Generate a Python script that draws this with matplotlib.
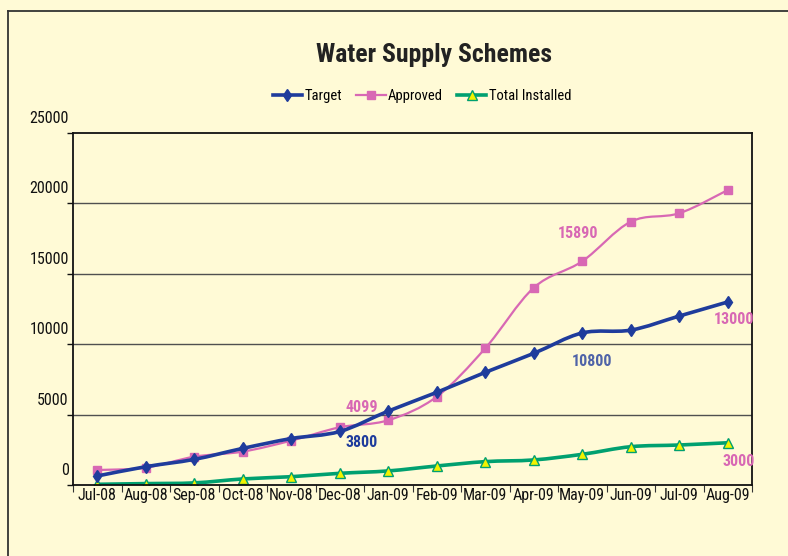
import matplotlib
matplotlib.use("Agg")
import matplotlib.pyplot as plt
import matplotlib.transforms as mtransforms
from matplotlib.path import Path
from matplotlib.patches import PathPatch
from matplotlib.lines import Line2D
import numpy as np

months = ["Jul-08", "Aug-08", "Sep-08", "Oct-08", "Nov-08", "Dec-08", "Jan-09",
          "Feb-09", "Mar-09", "Apr-09", "May-09", "Jun-09", "Jul-09", "Aug-09"]
target = [640, 1300, 1820, 2600, 3300, 3800, 5250, 6580, 8000, 9350, 10800, 11000, 12000, 13000]
approved = [1065, 1230, 2010, 2370, 3150, 4099, 4600, 6270, 9710, 14010, 15890, 18700, 19300, 20950]
installed = [50, 100, 150, 430, 590, 830, 1000, 1350, 1660, 1780, 2180, 2720, 2840, 3000]
yticks = [0, 5000, 10000, 15000, 20000, 25000]

plt.rcParams['font.family'] = ['Roboto Condensed', 'Liberation Sans', 'DejaVu Sans']

BG = "#FFFAD6"
C_T = "#1F3C9C"
C_A = "#D868B4"
C_I = "#00A070"

fig = plt.figure(figsize=(7.88, 5.56), dpi=100, facecolor=BG)
ax = fig.add_axes([73/788, 1-485/556, (752-73)/788, (485-133)/556])
ax.set_facecolor(BG)

x = np.arange(len(months))


def smooth_path(xs, ys):
    xs = np.asarray(xs, float)
    ys = np.asarray(ys, float)
    pts = np.column_stack([xs, ys])
    verts = [pts[0]]
    codes = [Path.MOVETO]
    n = len(pts)
    for i in range(n - 1):
        p0 = pts[i - 1] if i > 0 else pts[i]
        p1 = pts[i]
        p2 = pts[i + 1]
        p3 = pts[i + 2] if i + 2 < n else pts[i + 1]
        c1 = p1 + (p2 - p0) / 6.0
        c2 = p2 - (p3 - p1) / 6.0
        verts += [c1, c2, p2]
        codes += [Path.CURVE4] * 3
    return Path(verts, codes)


def draw_series(vals, color, lw, marker, ms, mfc, mec, label, z):
    ax.add_patch(PathPatch(smooth_path(x, vals), facecolor='none', edgecolor=color,
                           lw=lw, zorder=z, capstyle='round', joinstyle='round'))
    ax.plot(x, vals, linestyle='none', marker=marker, ms=ms, mfc=mfc, mec=mec,
            mew=1.0, zorder=z + 0.5)
    return Line2D([], [], color=color, lw=lw, marker=marker, ms=ms, mfc=mfc, mec=mec,
                  mew=1.0, label=label)


h1 = draw_series(target, C_T, 2.6, 'd', 6.5, C_T, C_T, "Target", 4)
h2 = draw_series(approved, C_A, 1.6, 's', 6, C_A, C_A, "Approved", 3)
h3 = draw_series(installed, C_I, 2.6, '^', 7, '#F2F200', C_I, "Total Installed", 2)

ax.set_xlim(-0.5, len(months) - 0.5)
ax.set_ylim(0, 25000)
ax.set_yticks(yticks)
ax.set_yticklabels([str(v) for v in yticks])
for y in yticks[1:-1]:
    ax.axhline(y, color='#505050', lw=1.0, zorder=1)

ax.set_xticks(x)
ax.set_xticklabels(months)
ax.set_xticks(np.arange(len(months) + 1) - 0.5, minor=True)
ax.tick_params(axis='x', which='major', length=0, pad=2, labelsize=11.5, colors='#111111')
ax.tick_params(axis='x', which='minor', length=5, direction='out', width=0.8, color='#333333')
ax.tick_params(axis='y', which='major', length=4, direction='out', width=1.0, pad=-1,
               labelsize=11.5, colors='#111111')

offset = mtransforms.ScaledTranslation(0, 16/100, fig.dpi_scale_trans)
for lab in ax.get_yticklabels():
    lab.set_transform(lab.get_transform() + offset)

for s in ax.spines.values():
    s.set_color('#111111')
    s.set_linewidth(1.3)

fig.text(434/788, 1-55/556, "Water Supply Schemes", ha='center', va='center',
         fontsize=18.5, fontweight='bold', color='#222222')

fig.legend(handles=[h1, h2, h3], loc='center', bbox_to_anchor=(422/788, 1-96/556),
           ncol=3, frameon=False, fontsize=10.5, handlelength=2.0, columnspacing=1.0,
           handletextpad=0.15)

ann = [
    (5, 4099, "4099", C_A, 22, 20),
    (5, 3800, "3800", C_T, 22, -11),
    (10, 15890, "15890", C_A, -4, 28),
    (10, 10800, "10800", "#4F63A8", 10, -29),
    (13, 13000, "13000", C_A, 6, -18),
    (13, 3000, "3000", C_A, 11, -19),
]
for xi, yv, txt, col, dx, dy in ann:
    ax.annotate(txt, (xi, yv), xytext=(dx, dy), textcoords='offset pixels',
                ha='center', va='center', fontsize=11.5, fontweight='bold', color=col,
                zorder=6)

fig.add_artist(Line2D([8/788, 8/788], [0, 1-11/556], color='#333333', lw=1.3))
fig.add_artist(Line2D([8/788, 1], [1-11/556, 1-11/556], color='#333333', lw=1.3))

fig.savefig("out.png", dpi=100, facecolor=BG)
